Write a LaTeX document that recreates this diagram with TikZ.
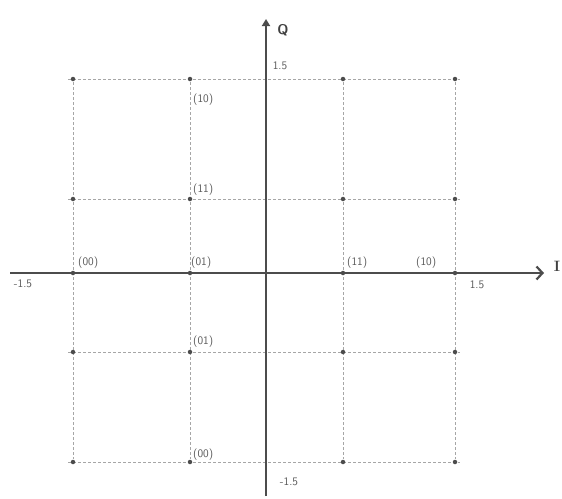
\documentclass[tikz,border=0pt]{standalone}
\usetikzlibrary{arrows.meta}
\begin{document}
\begin{tikzpicture}[x=1pt,y=-1pt,
  gridline/.style={draw=black!35, line width=1pt, dash pattern=on 3pt off 2pt},
  axisline/.style={draw=black!70, line width=2.2pt},
  pt/.style={circle, fill=black!70, inner sep=0pt, minimum size=4.5pt},
  lab/.style={font=\fontsize{11.5}{13}\sffamily, text=black!65, inner sep=1pt},
  axlab/.style={font=\fontsize{14}{16}\sffamily\bfseries, text=black!75, inner sep=0pt}]
\useasboundingbox (0,0) rectangle (562,498);
% grid coordinates
\foreach \c/\xx in {a/73,b/190,c/343,d/455}{
  \foreach \r/\yy in {1/79,2/199,3/273,4/352,5/462}{
    \coordinate (\c\r) at (\xx,\yy);
  }}
% horizontal grid lines
\foreach \r in {1,2,4,5}{
  \draw[gridline] ([xshift=-5pt]a\r) -- ([xshift=5pt]d\r);
}
% vertical grid lines
\foreach \c in {a,b,c,d}{
  \draw[gridline] ([yshift=-3pt]\c1) -- ([yshift=3pt]\c5);
}
% axes
\coordinate (ileft) at (10,273);
\coordinate (iright) at (544,273);
\coordinate (qbot) at (266,496);
\coordinate (qtop) at (266,19);
\draw[axisline, -{Straight Barb[length=6pt,width=13pt]}] (ileft) -- (iright);
\draw[axisline, -{Triangle[length=7pt,width=8pt]}] (qbot) -- (qtop);
\node[axlab] (qlab) at (283,30) {Q};
\node[axlab, font=\fontsize{15}{16}\rmfamily\bfseries] (ilab) at (557,266) {I};
% points
\foreach \c in {a,b,c,d}{
  \foreach \r in {1,2,3,4,5}{
    \node[pt] (p\c\r) at (\c\r) {};
  }}
% labels
\node[lab, anchor=west] (l10a) at (192,100) {(10)};
\node[lab, anchor=west] (l11a) at (192,190) {(11)};
\node[lab, anchor=west] (l00a) at (77,263) {(00)};
\node[lab, anchor=west] (l01a) at (190,263) {(01)};
\node[lab, anchor=west] (l11b) at (346,263) {(11)};
\node[lab, anchor=west] (l10b) at (415,263) {(10)};
\node[lab, anchor=west] (l01b) at (192,342) {(01)};
\node[lab, anchor=west] (l00b) at (192,455) {(00)};
\node[lab] (t1) at (280,66) {1.5};
\node[lab] (t2) at (23,284) {-1.5};
\node[lab] (t3) at (477,285) {1.5};
\node[lab] (t4) at (289,482) {-1.5};
\end{tikzpicture}
\end{document}
